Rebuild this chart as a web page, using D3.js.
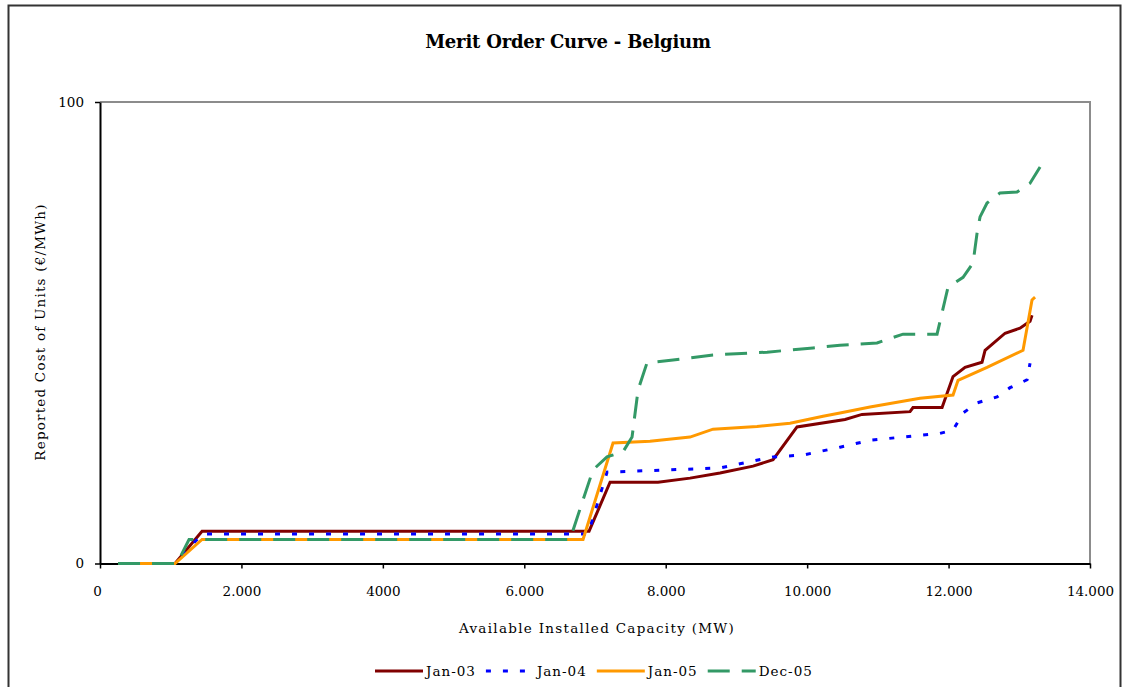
<!DOCTYPE html>
<html>
<head>
<meta charset="utf-8">
<script src="https://cdn.jsdelivr.net/npm/d3@7"></script>
<style>
  html, body { margin: 0; padding: 0; background: #fff; }
  svg { display: block; }
  text { font-family: "DejaVu Serif", "Liberation Serif", serif; fill: #000; }
</style>
</head>
<body>
<svg id="chart" width="1124" height="687"></svg>
<script>
// ---- Data (capacity MW, reported cost €/MWh) ----
const seriesNames = ["Jan-03", "Jan-04", "Jan-05", "Dec-05"];
const jan03 = [[255,0],[1061,0],[1443,7.0],[6916,7.0],[7213,17.6],[7891,17.6],[8344,18.5],[8768,19.6],[9235,21.1],[9518,22.5],[9857,29.6],[10536,31.2],[10776,32.3],[11455,32.9],[11497,33.8],[11908,33.8],[12063,40.5],[12233,42.5],[12473,43.6],[12516,46.2],[12799,49.9],[13010,51.0],[13152,52.5],[13180,53.8]];
const jan04 = [[255,0],[1061,0],[1443,6.4],[6902,6.4],[7170,19.8],[8768,20.7],[9518,23.1],[9942,23.5],[10465,25.2],[10889,26.7],[11879,28.2],[12063,28.9],[12205,32.6],[12403,34.8],[12685,36.1],[12869,38.1],[13110,39.8],[13152,43.4]];
const jan05 = [[255,0],[1061,0],[1443,5.2],[6831,5.2],[7255,26.1],[7778,26.5],[8344,27.4],[8669,29.1],[9291,29.7],[9758,30.4],[10225,31.9],[10465,32.6],[10889,33.9],[11596,35.8],[12063,36.5],[12134,39.7],[12544,42.5],[13053,46.2],[13180,57.1],[13223,57.7]];
const dec05 = [[255,0],[1089,0],[1259,5.2],[6647,5.2],[6831,13.8],[6972,20.3],[7170,23.1],[7396,24.2],[7524,27.4],[7609,37.6],[7736,43.5],[8104,44.1],[8669,45.2],[9433,45.8],[10083,46.7],[10465,47.3],[10988,47.8],[11356,49.7],[11837,49.7],[11950,57.1],[11993,59.9],[12205,62.0],[12346,65.1],[12403,71.6],[12445,75.1],[12544,78.1],[12728,80.3],[12968,80.5],[13152,82.4],[13294,85.9]];
const xTickValues = [0, 2000, 4000, 6000, 8000, 10000, 12000, 14000];
const xTickLabels = ["0", "2.000", "4000", "6.000", "8.000", "10.000", "12.000", "14.000"];
const yTickValues = [0, 100];
const yTickLabels = ["0", "100"];

// ---- Layout ----
const svg = d3.select("#chart");
const plot = { left: 100, right: 1090, top: 102, bottom: 563.5 };

const x = d3.scaleLinear().domain([0, 14000]).range([plot.left, plot.right]);
const y = d3.scaleLinear().domain([0, 100]).range([plot.bottom, plot.top]);

// outer chart frame
svg.append("rect")
  .attr("x", 8.5).attr("y", 5.5).attr("width", 1112).attr("height", 700)
  .attr("fill", "none").attr("stroke", "#333").attr("stroke-width", 2);

// plot area border (top and right, gray)
svg.append("path")
  .attr("d", `M${plot.left},${plot.top}H${plot.right}V${plot.bottom}`)
  .attr("fill", "none").attr("stroke", "#8c8c8c").attr("stroke-width", 2);

// title
svg.append("text")
  .attr("x", 568).attr("y", 48)
  .attr("text-anchor", "middle")
  .attr("font-weight", "bold")
  .attr("font-size", 18)
  .attr("letter-spacing", "-0.2px")
  .text("Merit Order Curve - Belgium");

// axes
const xAxis = d3.axisBottom(x)
  .tickValues(xTickValues)
  .tickFormat((d, i) => xTickLabels[i])
  .tickSizeInner(5).tickSizeOuter(0).tickPadding(18);
const gx = svg.append("g").attr("transform", `translate(0,${plot.bottom})`).call(xAxis);

const yAxis = d3.axisLeft(y)
  .tickValues(yTickValues)
  .tickFormat((d, i) => yTickLabels[i])
  .tickSizeInner(5).tickSizeOuter(0).tickPadding(11);
const gy = svg.append("g").attr("transform", `translate(${plot.left},0)`).call(yAxis);

[gx, gy].forEach(g => {
  g.select(".domain").attr("stroke", "#000").attr("stroke-width", 2);
  g.selectAll(".tick line").attr("stroke", "#000").attr("stroke-width", 1.5);
  g.selectAll(".tick text")
    .attr("font-family", "DejaVu Serif, serif")
    .attr("font-size", 13.5)
    .attr("fill", "#000");
});
gx.selectAll(".tick text").filter((d, i) => i === 0).attr("dx", -3);

// axis titles
svg.append("text")
  .attr("x", 597).attr("y", 633)
  .attr("text-anchor", "middle")
  .attr("font-size", 13.5)
  .attr("letter-spacing", "1.3px")
  .text("Available Installed Capacity (MW)");

svg.append("text")
  .attr("transform", "translate(45,332) rotate(-90)")
  .attr("text-anchor", "middle")
  .attr("font-size", 13.5)
  .attr("letter-spacing", "1.2px")
  .text("Reported Cost of Units (€/MWh)");

// series
const styles = [
  { color: "#800000", dash: null, width: 3 },
  { color: "#0000ff", dash: "5,12", width: 3 },
  { color: "#ff9900", dash: null, width: 3 },
  { color: "#339966", dash: "22,12", width: 3 }
];
const allData = [jan03, jan04, jan05, dec05];

const line = d3.line().x(d => x(d[0])).y(d => y(d[1]));

allData.forEach((data, i) => {
  svg.append("path")
    .datum(data)
    .attr("d", line)
    .attr("fill", "none")
    .attr("stroke", styles[i].color)
    .attr("stroke-width", styles[i].width)
    .attr("stroke-dasharray", styles[i].dash)
    .attr("stroke-linejoin", "miter");
});

// legend
const legend = svg.append("g");
let lx = 375;
const ly = 671;
seriesNames.forEach((name, i) => {
  legend.append("line")
    .attr("x1", lx).attr("x2", lx + 48)
    .attr("y1", ly).attr("y2", ly)
    .attr("stroke", styles[i].color)
    .attr("stroke-width", 3)
    .attr("stroke-dasharray", styles[i].dash);
  const t = legend.append("text")
    .attr("x", lx + 51).attr("y", ly + 5)
    .attr("font-size", 13.5)
    .attr("letter-spacing", "1px")
    .text(name);
  const w = t.node().getComputedTextLength();
  lx = lx + 51 + w + 10;
});
</script>
</body>
</html>
